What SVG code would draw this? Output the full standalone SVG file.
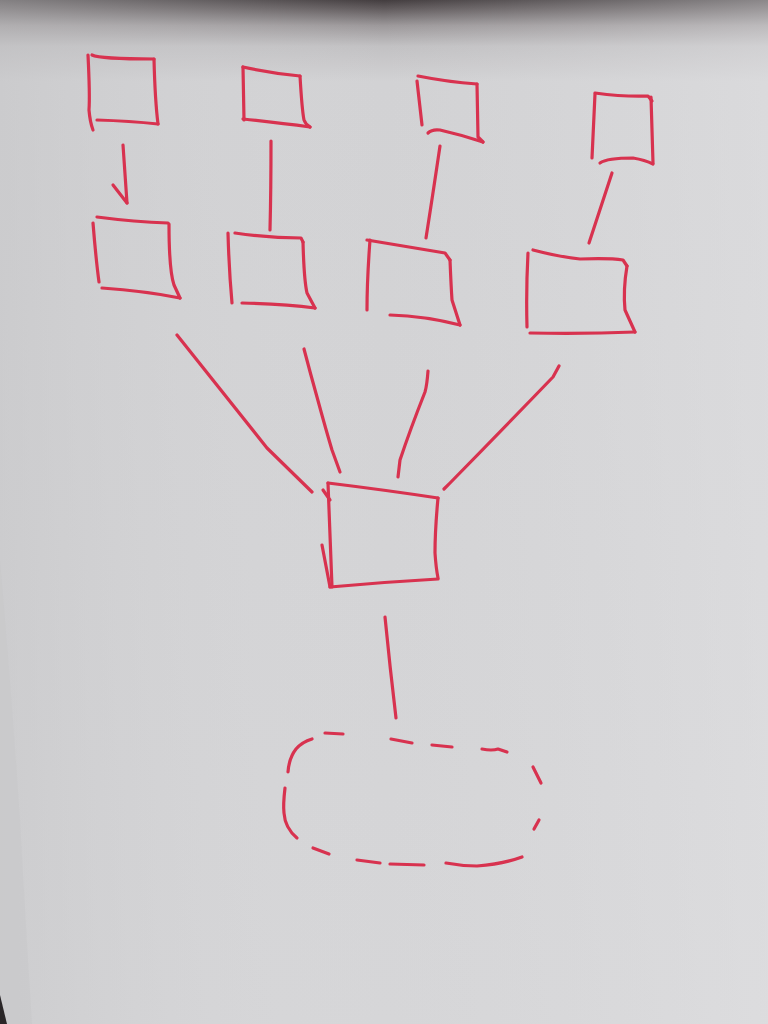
<svg xmlns="http://www.w3.org/2000/svg" width="768" height="1024" viewBox="0 0 768 1024">
<defs>
<linearGradient id="topShade" x1="0" y1="0" x2="0" y2="1">
<stop offset="0" stop-color="#433d3f"/>
<stop offset="0.008" stop-color="#5f595b"/>
<stop offset="0.025" stop-color="#9d999b"/>
<stop offset="0.045" stop-color="#c2c1c3"/>
<stop offset="0.08" stop-color="#d2d2d4"/>
<stop offset="1" stop-color="#d6d6d8"/>
</linearGradient>
<linearGradient id="sideLight" x1="0" y1="0" x2="1" y2="0">
<stop offset="0" stop-color="#c4c4c6" stop-opacity="0.5"/>
<stop offset="0.5" stop-color="#dcdcde" stop-opacity="0"/>
<stop offset="1" stop-color="#e4e4e6" stop-opacity="0.45"/>
</linearGradient>
<style>
.ink{fill:none;stroke:#d8324f;stroke-width:3.2;stroke-linecap:round;stroke-linejoin:round}
</style>
</defs>
<rect width="768" height="1024" fill="url(#topShade)"/>
<rect width="768" height="1024" fill="url(#sideLight)"/>
<path d="M0 560 Q12 700 20 820 Q26 930 32 1024 L0 1024 Z" fill="#c8c8ca" opacity="0.6"/>
<path d="M0 995 L7 1024 L0 1024 Z" fill="#2a2628"/>

<g id="node-a1">
<path class="ink" d="M88 55 Q90 95 89 110 Q90 122 93 130"/>
<path class="ink" d="M92 55 Q100 59 154 59"/>
<path class="ink" d="M154 59 Q155 100 158 124"/>
<path class="ink" d="M97 120 Q130 121 158 124"/>
</g>
<g id="node-a2">
<path class="ink" d="M243 67 L244 120"/>
<path class="ink" d="M243 67 Q270 73 300 76"/>
<path class="ink" d="M300 76 Q302 110 304 120 Q306 125 310 127"/>
<path class="ink" d="M243 119 Q280 123 310 127"/>
</g>
<g id="node-a3">
<path class="ink" d="M418 76 Q448 82 477 84"/>
<path class="ink" d="M417 81 L422 125"/>
<path class="ink" d="M477 84 L478 137 L483 142"/>
<path class="ink" d="M428 133 Q432 129 440 130 Q462 135 483 142"/>
</g>
<g id="node-a4">
<path class="ink" d="M595 93 Q625 97 648 96 L652 101"/>
<path class="ink" d="M595 94 L592 158"/>
<path class="ink" d="M651 97 L653 163"/>
<path class="ink" d="M600 163 Q607 158 633 158 Q645 160 653 164"/>
</g>
<g id="node-b1">
<path class="ink" d="M93 223 Q96 260 99 282"/>
<path class="ink" d="M97 217 Q135 222 168 223"/>
<path class="ink" d="M169 224 Q169 270 174 285 L180 298"/>
<path class="ink" d="M102 288 Q145 291 180 298"/>
</g>
<g id="node-b2">
<path class="ink" d="M228 233 Q229 270 232 303"/>
<path class="ink" d="M235 233 Q270 238 301 238 L303 242"/>
<path class="ink" d="M303 242 Q304 280 307 293 L315 308"/>
<path class="ink" d="M242 303 Q285 304 315 308"/>
</g>
<g id="node-b3">
<path class="ink" d="M370 240 Q367 280 367 310"/>
<path class="ink" d="M367 240 Q410 247 445 253 L450 260"/>
<path class="ink" d="M450 260 Q451 285 452 300 L460 325"/>
<path class="ink" d="M390 315 Q425 316 460 325"/>
</g>
<g id="node-b4">
<path class="ink" d="M533 250 Q560 257 580 259 Q610 258 623 260 L627 266"/>
<path class="ink" d="M528 253 Q526 290 527 327"/>
<path class="ink" d="M627 266 Q623 290 625 310 L635 332"/>
<path class="ink" d="M530 333 Q585 334 635 332"/>
</g>
<g id="node-center">
<path class="ink" d="M328 483 Q385 490 438 498"/>
<path class="ink" d="M328 483 Q330 540 332 587"/>
<path class="ink" d="M323 490 L330 500"/>
<path class="ink" d="M322 545 L330 587"/>
<path class="ink" d="M438 498 Q435 530 435 553 Q436 568 438 578"/>
<path class="ink" d="M330 587 Q385 582 438 579"/>
</g>
<g id="node-bottom">
<path class="ink" d="M325 733 L343 734"/>
<path class="ink" d="M312 739 Q302 742 296 749 Q289 758 288 772"/>
<path class="ink" d="M391 739 L412 743"/>
<path class="ink" d="M432 745 L452 747"/>
<path class="ink" d="M482 749 Q492 751 498 749 L507 752"/>
<path class="ink" d="M533 767 L541 783"/>
<path class="ink" d="M539 820 L534 829"/>
<path class="ink" d="M285 788 Q283 805 284 813 Q285 828 297 838"/>
<path class="ink" d="M313 848 L329 854"/>
<path class="ink" d="M357 860 L380 863"/>
<path class="ink" d="M390 864 L424 865"/>
<path class="ink" d="M446 863 Q462 866 477 866 Q503 864 522 857"/>
</g>
<g id="connectors">
<path class="ink" d="M123 145 L127 203"/>
<path class="ink" d="M113 185 L127 203"/>
<path class="ink" d="M271 141 Q271 190 270 230"/>
<path class="ink" d="M440 146 Q432 200 426 238"/>
<path class="ink" d="M612 173 Q600 210 589 243"/>
<path class="ink" d="M177 335 Q225 395 267 448 L312 492"/>
<path class="ink" d="M304 349 Q310 372 317 397 Q326 430 332 450 L340 472"/>
<path class="ink" d="M428 371 Q427 385 425 392 Q410 430 400 460 L398 477"/>
<path class="ink" d="M559 366 L553 377 Q500 432 450 483 L444 489"/>
<path class="ink" d="M385 617 Q390 668 396 718"/>
</g>
</svg>
